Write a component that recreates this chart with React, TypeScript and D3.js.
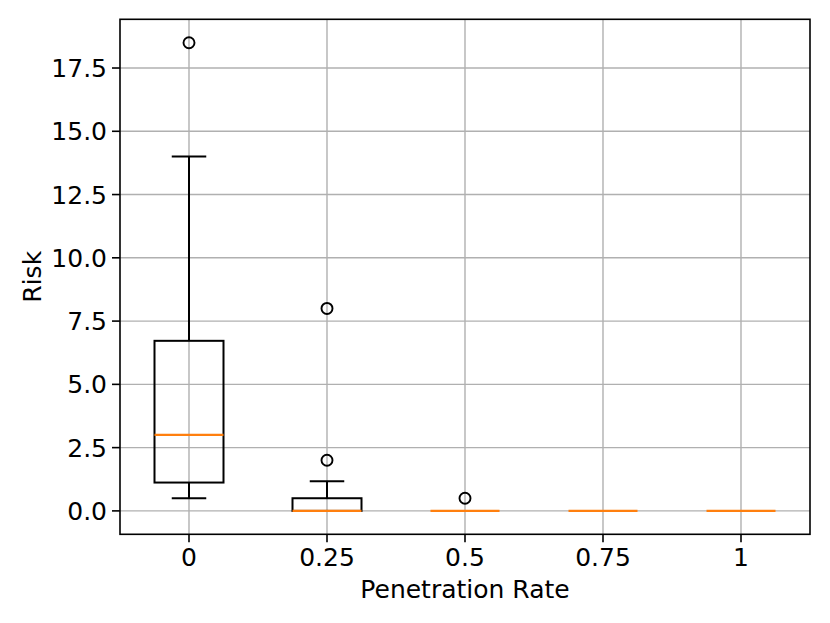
import React from "react";
import * as d3 from "d3";

const categories = ["0", "0.25", "0.5", "0.75", "1"];
const q1 = [1.12, 0, 0, 0, 0];
const medians = [3, 0, 0, 0, 0];
const q3 = [6.72, 0.5, 0, 0, 0];
const whiskerLow = [0.5, 0, 0, 0, 0];
const whiskerHigh = [14, 1.17, 0, 0, 0];
const outliers: number[][] = [[18.5], [2, 8], [0.5], [], []];
const yTicks = [0, 2.5, 5, 7.5, 10, 12.5, 15, 17.5];

const W = 830;
const H = 623;
const margin = { left: 120, right: 20, top: 19.3, bottom: 88.7 };

export default function App() {
  const x = d3
    .scaleLinear()
    .domain([0.5, categories.length + 0.5])
    .range([margin.left, W - margin.right]);
  const y = d3
    .scaleLinear()
    .domain([-0.925, 19.425])
    .range([H - margin.bottom, margin.top]);
  const font = "DejaVu Sans, sans-serif";
  const fs = 25;
  const boxW = 0.5;
  const capW = 0.25;
  const x0 = margin.left;
  const x1 = W - margin.right;
  const y0 = H - margin.bottom;
  const y1 = margin.top;
  const positions = categories.map((_, i) => i + 1);

  return (
    <svg
      width={W}
      height={H}
      style={{ position: "fixed", left: 0, top: 0, background: "#fff" }}
      fontFamily={font}
    >
      <rect x={0} y={0} width={W} height={H} fill="#fff" />
      {/* grid */}
      {positions.map((p) => (
        <line key={"gx" + p} x1={x(p)} x2={x(p)} y1={y0} y2={y1} stroke="#b0b0b0" strokeWidth={1.4} />
      ))}
      {yTicks.map((t) => (
        <line key={"gy" + t} x1={x0} x2={x1} y1={y(t)} y2={y(t)} stroke="#b0b0b0" strokeWidth={1.4} />
      ))}
      {/* boxes */}
      {positions.map((p, i) => {
        const cx = x(p);
        const bl = x(p - boxW / 2);
        const br = x(p + boxW / 2);
        const cl = x(p - capW / 2);
        const cr = x(p + capW / 2);
        return (
          <g key={"b" + i} stroke="#000" strokeWidth={2} fill="none">
            <line x1={cx} x2={cx} y1={y(q1[i])} y2={y(whiskerLow[i])} />
            <line x1={cx} x2={cx} y1={y(q3[i])} y2={y(whiskerHigh[i])} />
            <line x1={cl} x2={cr} y1={y(whiskerLow[i])} y2={y(whiskerLow[i])} />
            <line x1={cl} x2={cr} y1={y(whiskerHigh[i])} y2={y(whiskerHigh[i])} />
            <rect x={bl} y={y(q3[i])} width={br - bl} height={Math.max(0, y(q1[i]) - y(q3[i]))} />
            <line x1={bl} x2={br} y1={y(medians[i])} y2={y(medians[i])} stroke="#ff7f0e" strokeWidth={2.2} />
            {outliers[i].map((o, j) => (
              <circle key={j} cx={cx} cy={y(o)} r={5.5} strokeWidth={1.9} />
            ))}
          </g>
        );
      })}
      {/* spines */}
      <rect x={x0} y={y1} width={x1 - x0} height={y0 - y1} fill="none" stroke="#000" strokeWidth={1.6} />
      {/* x ticks */}
      {positions.map((p, i) => (
        <g key={"xt" + i}>
          <line x1={x(p)} x2={x(p)} y1={y0} y2={y0 + 8} stroke="#000" strokeWidth={1.6} />
          <text x={x(p)} y={y0 + 32} textAnchor="middle" fontSize={fs} fill="#000">
            {categories[i]}
          </text>
        </g>
      ))}
      {/* y ticks */}
      {yTicks.map((t) => (
        <g key={"yt" + t}>
          <line x1={x0 - 8} x2={x0} y1={y(t)} y2={y(t)} stroke="#000" strokeWidth={1.6} />
          <text x={x0 - 13} y={y(t)} dy="0.36em" textAnchor="end" fontSize={fs} fill="#000">
            {t.toFixed(1)}
          </text>
        </g>
      ))}
      <text x={(x0 + x1) / 2} y={598} textAnchor="middle" fontSize={fs} fill="#000">
        Penetration Rate
      </text>
      <text
        transform={`translate(41, ${(y0 + y1) / 2}) rotate(-90)`}
        textAnchor="middle"
        fontSize={fs}
        fill="#000"
      >
        Risk
      </text>
    </svg>
  );
}
